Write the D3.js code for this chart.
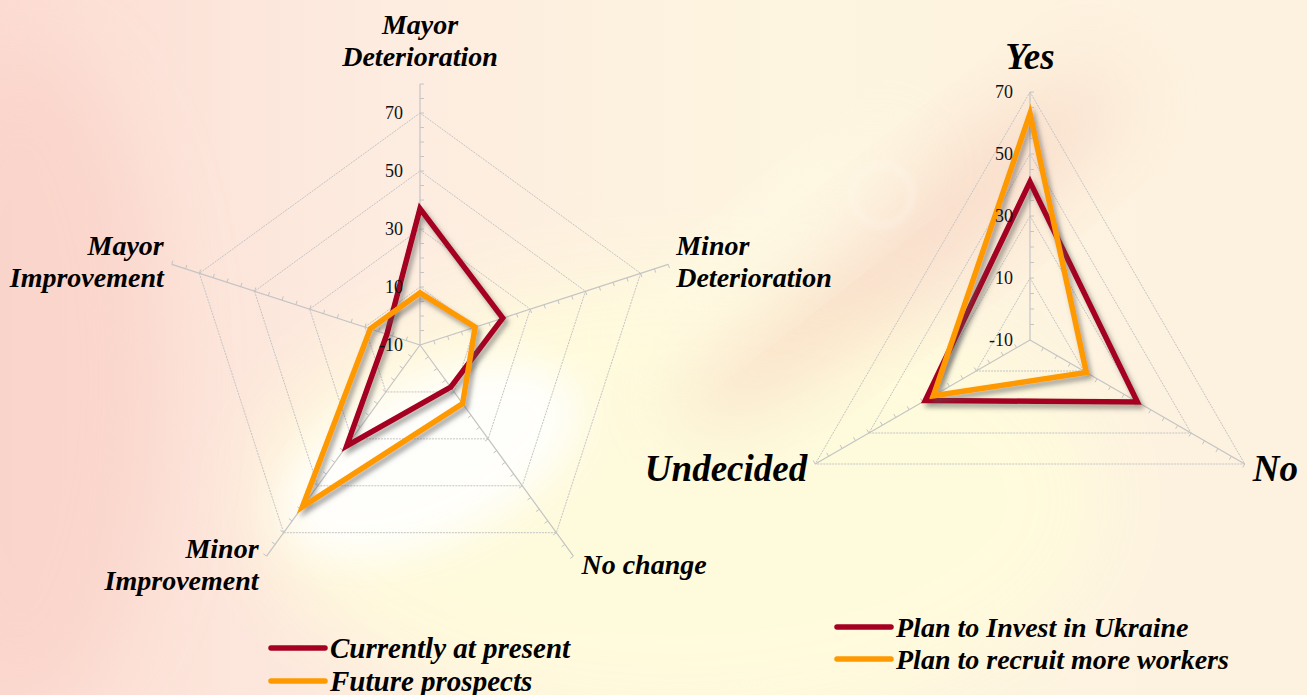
<!DOCTYPE html>
<html>
<head>
<meta charset="utf-8">
<script src="https://cdn.jsdelivr.net/npm/d3@7/dist/d3.min.js"></script>
<style>
  html, body { margin: 0; padding: 0; overflow: hidden; }
  svg { display: block; }
</style>
</head>
<body>
<svg id="chart" width="1307" height="695"></svg>
<script>
// ---------------- DATA ----------------
const leftCategories = ["Mayor\nDeterioration", "Minor\nDeterioration", "No change", "Minor\nImprovement", "Mayor\nImprovement"];
const leftCurrent = [37, 20, 8, 33, 2];
const leftFuture  = [8, 10, 15, 59, 8];
const leftSeriesNames = ["Currently at present", "Future prospects"];
const leftTicks = [-10, 10, 30, 50, 70];

const rightCategories = ["Yes", "No", "Undecided"];
const rightInvest  = [41, 30, 29];
const rightRecruit = [63, 11, 26];
const rightSeriesNames = ["Plan to Invest in Ukraine", "Plan to recruit more workers"];
const rightTicks = [-10, 10, 30, 50, 70];

const seriesColors = ["#A50021", "#FF9900"];

// ---------------- SETUP ----------------
const W = 1307, H = 695;
const svg = d3.select("#chart");
const defs = svg.append("defs");

// background
const bgLin = defs.append("linearGradient").attr("id", "bgLin").attr("x1", "0").attr("y1", "0").attr("x2", "1").attr("y2", "0");
bgLin.append("stop").attr("offset", "0").attr("stop-color", "#fcdcd3");
bgLin.append("stop").attr("offset", "0.3").attr("stop-color", "#fdece0");
bgLin.append("stop").attr("offset", "0.6").attr("stop-color", "#fdf5df");
bgLin.append("stop").attr("offset", "1").attr("stop-color", "#fdf1e0");
svg.append("rect").attr("width", W).attr("height", H).attr("fill", "url(#bgLin)");

const blur = defs.append("filter").attr("id", "bigBlur").attr("x", "-50%").attr("y", "-50%").attr("width", "200%").attr("height", "200%");
blur.append("feGaussianBlur").attr("stdDeviation", 40);
const blur2 = defs.append("filter").attr("id", "midBlur").attr("x", "-50%").attr("y", "-50%").attr("width", "200%").attr("height", "200%");
blur2.append("feGaussianBlur").attr("stdDeviation", 20);
const blur3 = defs.append("filter").attr("id", "smallBlur").attr("x", "-50%").attr("y", "-50%").attr("width", "200%").attr("height", "200%");
blur3.append("feGaussianBlur").attr("stdDeviation", 3);

const bg = svg.append("g");
bg.append("ellipse").attr("cx", 680).attr("cy", 500).attr("rx", 420).attr("ry", 220)
  .attr("fill", "#fffcdc").attr("opacity", 0.9).attr("filter", "url(#bigBlur)");
bg.append("ellipse").attr("cx", 20).attr("cy", 380).attr("rx", 140).attr("ry", 330)
  .attr("fill", "#f9d2c8").attr("opacity", 0.7).attr("filter", "url(#bigBlur)");
bg.append("ellipse").attr("cx", 900).attr("cy", 250).attr("rx", 280).attr("ry", 50)
  .attr("transform", "rotate(-38,900,250)")
  .attr("fill", "#f3c0b0").attr("opacity", 0.45).attr("filter", "url(#bigBlur)");
bg.append("ellipse").attr("cx", 430).attr("cy", 460).attr("rx", 160).attr("ry", 80)
  .attr("transform", "rotate(-25,430,460)")
  .attr("fill", "#ffffff").attr("opacity", 0.9).attr("filter", "url(#midBlur)");
bg.append("ellipse").attr("cx", 780).attr("cy", 250).attr("rx", 170).attr("ry", 35)
  .attr("transform", "rotate(-38,780,250)")
  .attr("fill", "#fffde8").attr("opacity", 0.7).attr("filter", "url(#bigBlur)");
bg.append("circle").attr("cx", 882).attr("cy", 195).attr("r", 30)
  .attr("fill", "none").attr("stroke", "#fff8f0").attr("stroke-width", 5).attr("opacity", 0.45)
  .attr("filter", "url(#smallBlur)");

// shadow filter for series lines
const sh = defs.append("filter").attr("id", "shadow").attr("x", "-20%").attr("y", "-20%").attr("width", "140%").attr("height", "140%");
sh.append("feDropShadow").attr("dx", 3).attr("dy", 4).attr("stdDeviation", 2.5)
  .attr("flood-color", "#555").attr("flood-opacity", 0.55);

const labelFont = "'Liberation Serif', 'Times New Roman', serif";

// ---------------- RADAR FUNCTION ----------------
function radar(opts) {
  const { cx, cy, domain, rMax, cats, series, ticks, catFont, tickFont } = opts;
  const g = svg.append("g");
  const r = d3.scaleLinear().domain(domain).range([0, rMax]);
  const n = cats.length;
  const ang = d3.scaleLinear().domain([0, n]).range([Math.PI / 2, Math.PI / 2 - 2 * Math.PI]);
  const pt = (i, v) => [cx + r(v) * Math.cos(ang(i)), cy - r(v) * Math.sin(ang(i))];

  // rings
  ticks.filter(t => t > domain[0]).forEach(t => {
    g.append("path")
      .attr("d", d3.line()(d3.range(n).map(i => pt(i, t))) + "Z")
      .attr("fill", "none").attr("stroke", "#c4c4c4").attr("stroke-width", 1)
      .attr("stroke-dasharray", "2,1");
  });
  // spokes + minor ticks
  const minor = d3.range(domain[0], domain[1] + 0.001, 5);
  for (let i = 0; i < n; i++) {
    const a = ang(i);
    const [x1, y1] = pt(i, domain[1]);
    g.append("line").attr("x1", cx).attr("y1", cy).attr("x2", x1).attr("y2", y1)
      .attr("stroke", "#c4c4c4").attr("stroke-width", 1.2);
    const px = Math.sin(a), py = Math.cos(a);
    minor.slice(1).forEach(v => {
      const [tx, ty] = pt(i, v);
      g.append("line").attr("x1", tx).attr("y1", ty).attr("x2", tx + px * 4).attr("y2", ty + py * 4)
        .attr("stroke", "#c4c4c4").attr("stroke-width", 1);
    });
  }

  // category labels
  cats.forEach((c, i) => {
    const [ex, ey] = pt(i, domain[1]);
    const cosA = Math.cos(ang(i)), sinA = Math.sin(ang(i));
    const lines = c.split("\n");
    const lh = catFont * 1.15;
    let anchor, x, yc;
    if (Math.abs(cosA) < 0.01) {
      anchor = "middle"; x = ex;
      yc = ey - opts.topGap - (lines.length * lh) / 2;
    } else if (cosA > 0) {
      anchor = "start"; x = ex + opts.sideGap;
      yc = ey + (sinA < 0 ? opts.bottomDy : opts.sideDy);
    } else {
      anchor = "end"; x = ex - opts.sideGap;
      yc = ey + (sinA < 0 ? opts.bottomDy : opts.sideDy);
    }
    const t = g.append("text").attr("text-anchor", anchor)
      .attr("font-family", labelFont).attr("font-size", catFont)
      .attr("font-weight", "bold").attr("font-style", "italic").attr("fill", "#000");
    lines.forEach((ln, k) => {
      t.append("tspan").attr("x", x)
        .attr("y", yc - (lines.length - 1) * lh / 2 + k * lh)
        .attr("dominant-baseline", "central").text(ln);
    });
  });

  // series
  series.forEach((s, si) => {
    g.append("path")
      .attr("d", d3.line()(s.map((v, i) => pt(i, v))) + "Z")
      .attr("fill", "none").attr("stroke", seriesColors[si]).attr("stroke-width", 5.5)
      .attr("stroke-linejoin", "miter").attr("stroke-miterlimit", 10)
      .attr("filter", "url(#shadow)");
  });

  // tick labels on first axis (on top)
  ticks.forEach(t => {
    g.append("text").attr("x", cx - opts.tickGap).attr("y", cy - r(t))
      .attr("text-anchor", "end").attr("dominant-baseline", "central")
      .attr("font-family", labelFont).attr("font-size", tickFont).attr("fill", "#111")
      .text(t);
  });
}

radar({
  cx: 420, cy: 345, domain: [-10, 80], rMax: 261,
  cats: leftCategories, series: [leftCurrent, leftFuture], ticks: leftTicks,
  catFont: 28, tickFont: 18, tickGap: 17, topGap: 11, sideGap: 8, sideDy: -3, bottomDy: 8
});
radar({
  cx: 1030, cy: 340, domain: [-10, 70], rMax: 248,
  cats: rightCategories, series: [rightInvest, rightRecruit], ticks: rightTicks,
  catFont: 37, tickFont: 18, tickGap: 17, topGap: 14, sideGap: 8, sideDy: 4, bottomDy: 4
});

// ---------------- LEGENDS ----------------
function legend(x, y, names, step, lineLen, fs) {
  const g = svg.append("g");
  names.forEach((nm, i) => {
    const yy = y + i * step;
    g.append("line").attr("x1", x).attr("x2", x + lineLen).attr("y1", yy).attr("y2", yy)
      .attr("stroke", seriesColors[i]).attr("stroke-width", 5.5).attr("stroke-linecap", "round");
    g.append("text").attr("x", x + lineLen + 5).attr("y", yy)
      .attr("dominant-baseline", "central")
      .attr("font-family", labelFont).attr("font-size", fs)
      .attr("font-weight", "bold").attr("font-style", "italic").attr("fill", "#000")
      .text(nm);
  });
}
legend(271, 648, leftSeriesNames, 33, 54, 29);
legend(837, 627, rightSeriesNames, 32, 54, 28);
</script>
</body>
</html>
